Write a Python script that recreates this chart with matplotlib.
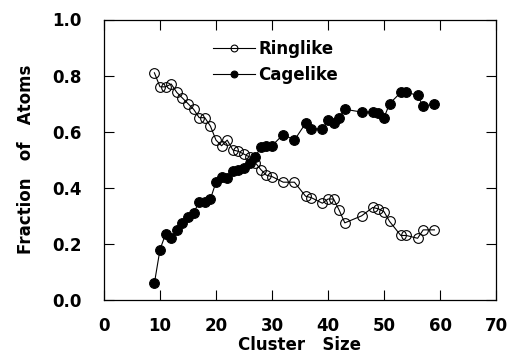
import matplotlib
matplotlib.use("Agg")
import matplotlib.pyplot as plt

# cluster sizes (same for both series)
sizes = [9, 10, 11, 12, 13, 14, 15, 16, 17, 18, 19, 20, 21, 22, 23, 24, 25, 26, 27, 28, 29, 30,
         32, 34, 36, 37, 39, 40, 41, 42, 43, 46, 48, 49, 50, 51, 53, 54, 56, 57, 59]

ringlike = [0.81, 0.76, 0.76, 0.77, 0.74, 0.72, 0.70, 0.68, 0.65, 0.65, 0.62, 0.57, 0.55, 0.57,
            0.535, 0.53, 0.52, 0.51, 0.49, 0.465, 0.445, 0.44, 0.42, 0.42, 0.37, 0.365, 0.345,
            0.36, 0.36, 0.32, 0.275, 0.30, 0.33, 0.325, 0.315, 0.28, 0.23, 0.23, 0.22, 0.25, 0.25]

cagelike = [0.06, 0.18, 0.235, 0.22, 0.25, 0.275, 0.295, 0.31, 0.35, 0.35, 0.36, 0.42, 0.44, 0.435,
            0.46, 0.465, 0.47, 0.49, 0.51, 0.545, 0.55, 0.55, 0.59, 0.57, 0.63, 0.61, 0.61, 0.64,
            0.63, 0.65, 0.68, 0.67, 0.67, 0.665, 0.65, 0.70, 0.74, 0.74, 0.73, 0.69, 0.70]

xticks = [0, 10, 20, 30, 40, 50, 60, 70]
yticks = [0.0, 0.2, 0.4, 0.6, 0.8, 1.0]

plt.rcParams['font.family'] = ['DejaVu Sans']
plt.rcParams['font.weight'] = 'bold'

fig = plt.figure(figsize=(5.11, 3.54), dpi=100)
ax = fig.add_axes([104/511, 1-300/354, 392/511, 280.5/354])

ax.plot(sizes, ringlike, color='black', lw=0.8, marker='o', ms=7, mfc='none',
        mec='black', mew=0.8, label='Ringlike')
ax.plot(sizes, cagelike, color='black', lw=0.8, marker='o', ms=7, mfc='black',
        mec='black', mew=0.8, label='Cagelike')

ax.set_xlim(0, 70)
ax.set_ylim(0, 1.0)
ax.set_xticks(xticks)
ax.set_yticks(yticks)
ax.set_xticklabels([str(t) for t in xticks])
ax.set_yticklabels(['%.1f' % t for t in yticks])

ax.tick_params(direction='in', length=7, width=0.8, top=True, right=True,
               labelsize=12)
ax.tick_params(axis='x', pad=12)
ax.tick_params(axis='y', pad=16)
for s in ax.spines.values():
    s.set_linewidth(0.9)

ax.set_xlabel('Cluster   Size', fontsize=12, fontweight='bold')
ax.set_ylabel('Fraction   of   Atoms', fontsize=12, fontweight='bold')
ax.xaxis.set_label_coords(0.5, -0.128)
ax.yaxis.set_label_coords(-0.175, 0.5)

ax.legend(loc='upper left', bbox_to_anchor=(0.258, 0.958), frameon=False,
          fontsize=12, handlelength=2.5, handletextpad=0.2, labelspacing=0.5,
          borderpad=0, markerscale=0.7)

fig.savefig('out.png', dpi=100)
